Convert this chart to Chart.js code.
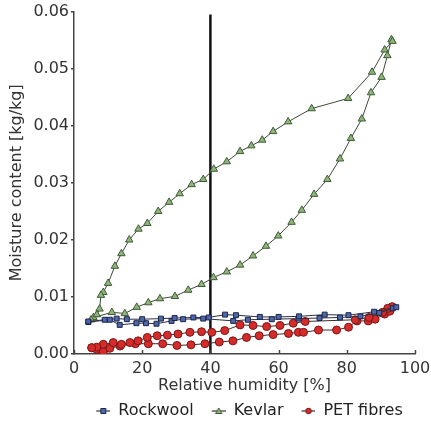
<!DOCTYPE html>
<html>
<head>
<meta charset="utf-8">
<script src="https://cdn.jsdelivr.net/npm/chart.js@4/dist/chart.umd.min.js"></script>
<style>
  html, body { margin: 0; padding: 0; background: #fff; }
  #wrap { width: 431px; height: 421px; }
</style>
</head>
<body>
<div id="wrap"><canvas id="moistureChart"></canvas></div>
<script>
// [relative humidity %, moisture content kg/kg], sorption then desorption
const rockwool = [
  [4.2,0.0056],[10.5,0.0060],[13.4,0.0051],[18.3,0.0054],[21.1,0.0054],[24.2,0.0053],[28.6,0.0058],
  [32.0,0.0061],[37.9,0.0062],[46.7,0.0058],[51.0,0.0060],[58.0,0.0061],[65.8,0.0062],[72.0,0.0063],
  [78.0,0.0064],[84.0,0.0066],[89.5,0.0072],[93.5,0.0080],
  [94.5,0.0082],[88.0,0.0074],[80.5,0.0068],[73.5,0.0069],[66.0,0.0066],[60.0,0.0065],[54.5,0.0065],
  [47.5,0.0068],[44.3,0.0069],[39.5,0.0064],[35.0,0.0064],[29.5,0.0063],[25.5,0.0062],[20.0,0.0061],
  [15.5,0.0061],[12.5,0.0062],[9.0,0.0060],[4.2,0.0057]
];
const kevlar = [
  [5.7,0.0064],[11.1,0.0073],[14.9,0.0071],[18.4,0.0082],[21.8,0.0090],[25.2,0.0097],[29.6,0.0101],
  [33.5,0.0112],[37.4,0.0122],[40.9,0.0134],[44.8,0.0144],[48.7,0.0156],[52.5,0.0172],[56.3,0.0189],
  [59.9,0.0207],[63.8,0.0231],[66.8,0.0252],[70.4,0.0280],[74.3,0.0306],[78.0,0.0342],[81.2,0.0378],
  [84.4,0.0412],[87.1,0.0458],[90.2,0.0485],[91.9,0.0523],[93.1,0.0551],
  [93.4,0.0548],[91.1,0.0533],[87.4,0.0494],[80.4,0.0448],[69.7,0.0430],[62.8,0.0407],[58.4,0.0390],
  [55.2,0.0375],[52.0,0.0365],[48.7,0.0355],[44.8,0.0337],[41.0,0.0324],[37.9,0.0306],[34.5,0.0297],
  [31.0,0.0281],[27.9,0.0266],[24.7,0.0250],[21.5,0.0229],[18.9,0.0219],[16.2,0.0200],[13.9,0.0176],
  [12.0,0.0154],[10.0,0.0124],[8.6,0.0108],[7.9,0.0103],[7.5,0.0079],[6.7,0.0069],[5.0,0.0060]
];
const petFibres = [
  [5.2,0.0011],[6.7,0.0008],[8.6,0.0004],[10.5,0.0010],[13.5,0.0014],[18.0,0.0018],[21.8,0.0018],
  [26.0,0.0018],[30.2,0.0015],[34.3,0.0016],[38.4,0.0018],[42.6,0.0021],[46.6,0.0023],[50.6,0.0029],
  [54.3,0.0032],[58.4,0.0034],[62.9,0.0036],[65.8,0.0038],[67.3,0.0038],[71.7,0.0042],[77.0,0.0042],
  [80.5,0.0047],[83.0,0.0058],[86.3,0.0058],[88.3,0.0061],[91.1,0.0070],[92.6,0.0075],[93.3,0.0083],
  [92.0,0.0080],[90.5,0.0073],[86.5,0.0064],[82.5,0.0060],[67.8,0.0057],[64.3,0.0054],[60.4,0.0050],
  [56.5,0.0048],[52.5,0.0050],[48.7,0.0051],[44.2,0.0041],[40.4,0.0038],[37.4,0.0039],[34.0,0.0038],
  [30.5,0.0035],[27.4,0.0033],[24.4,0.0032],[21.5,0.0029],[18.8,0.0023],[16.4,0.0020],[13.9,0.0017],
  [11.5,0.0020],[8.6,0.0017],[6.7,0.0012],[5.2,0.0011]
];
const markerLine = [[40, 0], [40, 0.0595]];
const xTicks = [0, 20, 40, 60, 80, 100];
const yTicks = [0, 0.01, 0.02, 0.03, 0.04, 0.05, 0.06];

const toXY = arr => arr.map(p => ({ x: p[0], y: p[1] }));
const FONT = 'DejaVu Sans';

// legend symbol: short line with a small marker, blank gap on the left for spacing
function legendIcon(shape, fill, stroke) {
  const c = document.createElement('canvas');
  c.width = 24; c.height = 10;
  const g = c.getContext('2d');
  const cx = 17, cy = 5;
  g.strokeStyle = '#333'; g.lineWidth = 1.2;
  g.beginPath(); g.moveTo(10, cy); g.lineTo(24, cy); g.stroke();
  g.fillStyle = fill; g.strokeStyle = stroke; g.lineWidth = 1;
  g.beginPath();
  if (shape === 'rect') g.rect(cx - 2.5, cy - 2.5, 5, 5);
  else if (shape === 'triangle') { g.moveTo(cx, cy - 3); g.lineTo(cx + 3.2, cy + 2.5); g.lineTo(cx - 3.2, cy + 2.5); g.closePath(); }
  else g.arc(cx, cy, 2.8, 0, Math.PI * 2);
  g.fill(); g.stroke();
  return c;
}
const icons = [
  legendIcon('rect', '#4d68a8', '#1c2448'),
  legendIcon('triangle', '#8fb57c', '#3e5a34'),
  legendIcon('circle', '#d52b2b', '#7a1616')
];

// small inward tick marks on the x axis, like the original plot
const inwardTicks = {
  id: 'inwardTicks',
  afterDraw(chart) {
    const ctx = chart.ctx, xs = chart.scales.x, ys = chart.scales.y;
    ctx.save();
    ctx.strokeStyle = '#444';
    ctx.lineWidth = 1.5;
    xTicks.forEach(v => {
      const px = Math.round(xs.getPixelForValue(v)) + 0.5;
      ctx.beginPath(); ctx.moveTo(px, ys.bottom); ctx.lineTo(px, ys.bottom - 4); ctx.stroke();
    });
    ctx.restore();
  }
};

function renderMoistureChart() {
  const ctx = document.getElementById('moistureChart').getContext('2d');
  new Chart(ctx, {
    type: 'scatter',
    data: {
      datasets: [
        {
          label: 'Rockwool',
          data: toXY(rockwool),
          showLine: true,
          borderColor: '#2b2f45',
          borderWidth: 1,
          pointStyle: 'rect',
          pointRadius: 3.5,
          pointBackgroundColor: '#4d68a8',
          pointBorderColor: '#1c2448',
          pointBorderWidth: 1
        },
        {
          label: 'Kevlar',
          data: toXY(kevlar),
          showLine: true,
          borderColor: '#3a4a35',
          borderWidth: 1,
          pointStyle: 'triangle',
          pointRadius: 4.3,
          pointBackgroundColor: '#8fb57c',
          pointBorderColor: '#3e5a34',
          pointBorderWidth: 1
        },
        {
          label: 'PET fibres',
          data: toXY(petFibres),
          showLine: true,
          borderColor: '#3a2a2a',
          borderWidth: 1,
          pointStyle: 'circle',
          pointRadius: 4,
          pointBackgroundColor: '#d52b2b',
          pointBorderColor: '#7a1616',
          pointBorderWidth: 1
        },
        {
          label: 'RH 40',
          data: toXY(markerLine),
          showLine: true,
          borderColor: '#111',
          borderWidth: 2.5,
          pointRadius: 0
        }
      ]
    },
    options: {
      responsive: true,
      maintainAspectRatio: false,
      animation: false,
      layout: { padding: { top: 5, right: 0, bottom: -8, left: 0 } },
      plugins: {
        tooltip: { enabled: false },
        legend: {
          position: 'bottom',
          fullSize: false,
          labels: {
            usePointStyle: true,
            pointStyleWidth: 24,
            boxHeight: 10,
            padding: 8,
            color: '#222',
            font: { family: FONT, size: 16 },
            generateLabels: chart => chart.data.datasets.slice(0, 3).map((ds, i) => ({
              text: ds.label,
              pointStyle: icons[i],
              fillStyle: ds.pointBackgroundColor,
              strokeStyle: ds.pointBorderColor,
              lineWidth: 0,
              fontColor: '#222',
              datasetIndex: i
            }))
          }
        }
      },
      scales: {
        x: {
          type: 'linear',
          min: 0,
          max: 100,
          afterBuildTicks: s => { s.ticks = xTicks.map(v => ({ value: v })); },
          grid: { display: false, drawTicks: false },
          border: { display: true, color: '#444', width: 1.5 },
          ticks: { color: '#333', padding: 5, maxRotation: 0, font: { family: FONT, size: 16 } },
          title: {
            display: true,
            text: 'Relative humidity [%]',
            color: '#333',
            padding: { top: 0, bottom: 0 },
            font: { family: FONT, size: 16 }
          },
          afterFit: s => { s.height = 41; s.paddingRight = 16; }
        },
        y: {
          type: 'linear',
          min: 0,
          max: 0.06,
          afterBuildTicks: s => { s.ticks = yTicks.map(v => ({ value: v })); },
          grid: { display: true, drawOnChartArea: false, drawTicks: true, tickLength: 3, color: '#444', lineWidth: 1.5 },
          border: { display: true, color: '#444', width: 1.5 },
          ticks: {
            color: '#333',
            padding: 2,
            font: { family: FONT, size: 16 },
            callback: v => v.toFixed(2)
          },
          title: {
            display: true,
            text: 'Moisture content [kg/kg]',
            color: '#333',
            padding: { top: 7, bottom: 0 },
            font: { family: FONT, size: 16 }
          },
          afterFit: s => { s.width = 74; }
        }
      }
    },
    plugins: [inwardTicks]
  });
}

renderMoistureChart();
</script>
</body>
</html>
